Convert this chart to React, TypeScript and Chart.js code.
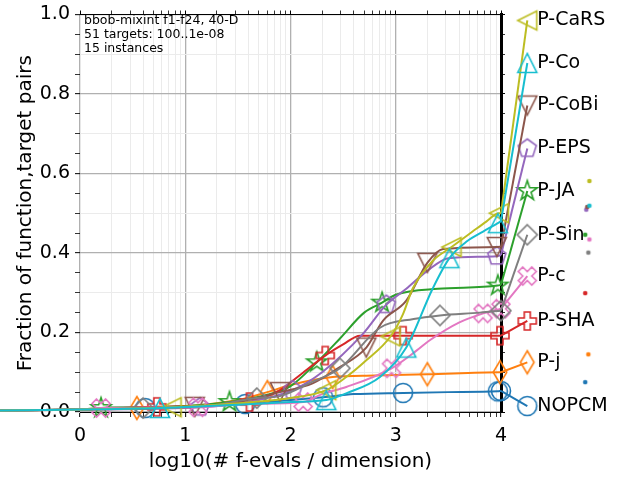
import React, { useEffect, useRef } from 'react';
import { Chart, registerables } from 'chart.js';

Chart.register(...registerables);

// ---------------- data ----------------
const ALGORITHMS = ['NOPCM', 'P-j', 'P-JA', 'P-SHA', 'P-EPS', 'P-CoBi', 'P-c', 'P-Sin', 'P-CaRS', 'P-Co'];
const COLORS = ['#1f77b4', '#ff7f0e', '#2ca02c', '#d62728', '#9467bd', '#8c564b', '#e377c2', '#7f7f7f', '#bcbd22', '#17becf'];
const MARKERS = ['circle', 'thinDiamond', 'star', 'plus', 'pentagon', 'triDown', 'xFilled', 'diamond', 'triLeft', 'triUp'];

const X_START = -0.76;
const Y_START = 0.004;
const X_LABEL = 4.25;
const LABEL_Y = [0.015, 0.125, 0.556, 0.229, 0.663, 0.771, 0.342, 0.446, 0.985, 0.878];

const NOPCM_X = [0, 0.62, 1.0, 1.57, 2.0, 2.31, 2.6, 3.07, 3.5, 3.97, 4.0];
const NOPCM_Y = [0.006, 0.01, 0.013, 0.02, 0.03, 0.037, 0.045, 0.048, 0.05, 0.052, 0.053];
const NOPCM_MARKS = [1, 3, 5, 7, 9, 10];

const PJ_X = [0, 0.54, 1.0, 1.5, 1.78, 2.0, 2.4, 2.8, 3.3, 3.99, 4.0];
const PJ_Y = [0.006, 0.01, 0.014, 0.03, 0.05, 0.068, 0.088, 0.092, 0.095, 0.1, 0.1];
const PJ_MARKS = [1, 4, 6, 8, 9];

const PJA_X = [0, 0.2, 1.0, 1.42, 1.8, 2.0, 2.25, 2.47, 2.7, 2.87, 3.0, 3.4, 3.97, 4.0];
const PJA_Y = [0.006, 0.01, 0.015, 0.025, 0.045, 0.065, 0.125, 0.185, 0.25, 0.275, 0.295, 0.31, 0.318, 0.32];
const PJA_MARKS = [1, 3, 6, 9, 12];

const PSHA_X = [0, 0.73, 1.2, 1.61, 1.9, 2.1, 2.33, 2.5, 2.66, 3.07, 3.99, 4.0];
const PSHA_Y = [0.006, 0.013, 0.016, 0.025, 0.055, 0.095, 0.142, 0.17, 0.192, 0.192, 0.192, 0.192];
const PSHA_MARKS = [1, 3, 6, 9, 10];

const PEPS_X = [0, 1.14, 1.6, 2.02, 2.3, 2.69, 2.91, 3.1, 3.3, 3.5, 3.96, 4.0];
const PEPS_Y = [0.006, 0.012, 0.025, 0.055, 0.1, 0.197, 0.27, 0.31, 0.355, 0.387, 0.392, 0.395];
const PEPS_MARKS = [1, 3, 6, 10];

const PCOBI_X = [0, 1.09, 1.5, 1.9, 2.21, 2.45, 2.72, 2.88, 3.1, 3.3, 3.45, 3.96, 4.0];
const PCOBI_Y = [0.006, 0.013, 0.025, 0.05, 0.072, 0.11, 0.162, 0.23, 0.28, 0.375, 0.41, 0.415, 0.416];
const PCOBI_MARKS = [1, 3, 6, 9, 11];

const PC_X = [0, 0.2, 1.12, 1.6, 2.12, 2.3, 2.53, 2.96, 3.2, 3.32, 3.6, 3.83, 4.0];
const PC_Y = [0.006, 0.01, 0.012, 0.02, 0.025, 0.045, 0.063, 0.11, 0.155, 0.18, 0.225, 0.248, 0.26];
const PC_MARKS = [1, 2, 4, 7, 11, 12];

const PSIN_X = [0, 0.6, 1.2, 1.68, 1.9, 2.2, 2.47, 2.85, 3.17, 3.42, 3.8, 4.0];
const PSIN_Y = [0.006, 0.01, 0.015, 0.035, 0.04, 0.075, 0.11, 0.212, 0.234, 0.243, 0.25, 0.255];
const PSIN_MARKS = [1, 3, 6, 9, 11];

const PCARS_X = [0, 0.87, 1.4, 2.0, 2.34, 2.53, 2.72, 2.95, 3.07, 3.16, 3.35, 3.53, 3.73, 3.86, 3.98, 4.0];
const PCARS_Y = [0.006, 0.012, 0.02, 0.035, 0.055, 0.088, 0.13, 0.19, 0.247, 0.31, 0.38, 0.415, 0.454, 0.479, 0.5, 0.5];
const PCARS_MARKS = [1, 4, 7, 11, 14];

const PCO_X = [0, 0.76, 1.5, 2.0, 2.34, 2.53, 2.85, 3.1, 3.35, 3.51, 3.68, 3.83, 3.97, 4.0];
const PCO_Y = [0.006, 0.01, 0.018, 0.025, 0.03, 0.047, 0.088, 0.162, 0.31, 0.387, 0.43, 0.454, 0.475, 0.48];
const PCO_MARKS = [1, 4, 7, 9, 12];

const SERIES_X = [NOPCM_X, PJ_X, PJA_X, PSHA_X, PEPS_X, PCOBI_X, PC_X, PSIN_X, PCARS_X, PCO_X];
const SERIES_Y = [NOPCM_Y, PJ_Y, PJA_Y, PSHA_Y, PEPS_Y, PCOBI_Y, PC_Y, PSIN_Y, PCARS_Y, PCO_Y];
const SERIES_MARKS = [NOPCM_MARKS, PJ_MARKS, PJA_MARKS, PSHA_MARKS, PEPS_MARKS, PCOBI_MARKS, PC_MARKS, PSIN_MARKS, PCARS_MARKS, PCO_MARKS];

// small dots at the right margin (one per algorithm, same order)
const DOT_X = [4.8, 4.83, 4.8, 4.8, 4.81, 4.82, 4.84, 4.83, 4.84, 4.84];
const DOT_Y = [0.075, 0.145, 0.446, 0.299, 0.509, 0.516, 0.434, 0.401, 0.581, 0.519];

const X_MAJOR = [0, 1, 2, 3, 4];
const X_TICK_LABELS = ['0', '1', '2', '3', '4'];
const Y_MAJOR = [0, 0.2, 0.4, 0.6, 0.8, 1.0];
const Y_TICK_LABELS = ['0.0', '0.2', '0.4', '0.6', '0.8', '1.0'];

const INFO_LINES = ['bbob-mixint f1-f24, 40-D', '51 targets: 100..1e-08', '15 instances'];
const X_TITLE = 'log10(# f-evals / dimension)';
const Y_TITLE = 'Fraction of function,target pairs';

// tick positions: log-spaced minor ticks per decade, 0.05 steps on y
const X_TICKS: number[] = [];
for (let d = 0; d < 4; d++) for (let k = 1; k <= 9; k++) X_TICKS.push(d + Math.log10(k));
X_TICKS.push(4);
const Y_TICKS: number[] = [];
for (let i = 0; i <= 20; i++) Y_TICKS.push(i * 0.05);

// ---------------- helpers ----------------
const FONT = '"DejaVu Sans", "Liberation Sans", sans-serif';

function makeMarker(shape: string, color: string): HTMLCanvasElement {
  const S = 30;
  const c = document.createElement('canvas');
  c.width = S;
  c.height = S;
  const g = c.getContext('2d')!;
  g.translate(S / 2, S / 2);
  g.strokeStyle = color;
  g.fillStyle = color;
  g.lineWidth = 1.6;
  g.lineJoin = 'miter';
  g.beginPath();
  const poly = (pts: number[][], s = 1) => {
    pts.forEach(([x, y], i) => (i ? g.lineTo(x * s, y * s) : g.moveTo(x * s, y * s)));
    g.closePath();
  };
  switch (shape) {
    case 'circle':
      g.arc(0, 0, 9.5, 0, Math.PI * 2);
      break;
    case 'dot':
      g.arc(0, 0, 2.3, 0, Math.PI * 2);
      g.fill();
      return c;
    case 'triUp':
      poly([[0, -9.5], [-9.5, 9.5], [9.5, 9.5]]);
      break;
    case 'triDown':
      poly([[0, 9.5], [-9.5, -9.5], [9.5, -9.5]]);
      break;
    case 'triLeft':
      poly([[-9.5, 0], [9.5, -9.5], [9.5, 9.5]]);
      break;
    case 'diamond':
      poly([[0, -10], [10, 0], [0, 10], [-10, 0]]);
      break;
    case 'thinDiamond':
      poly([[0, -11.5], [6.8, 0], [0, 11.5], [-6.8, 0]]);
      break;
    case 'pentagon': {
      const pts: number[][] = [];
      for (let i = 0; i < 5; i++) {
        const a = -Math.PI / 2 + (i * 2 * Math.PI) / 5;
        pts.push([Math.cos(a) * 9.5, Math.sin(a) * 9.5]);
      }
      poly(pts);
      break;
    }
    case 'star': {
      const pts: number[][] = [];
      for (let i = 0; i < 10; i++) {
        const a = -Math.PI / 2 + (i * Math.PI) / 5;
        const r = i % 2 ? 10.5 * 0.382 : 10.5;
        pts.push([Math.cos(a) * r, Math.sin(a) * r]);
      }
      poly(pts);
      break;
    }
    case 'plus':
      poly(
        [[-1, -3], [-1, -1], [-3, -1], [-3, 1], [-1, 1], [-1, 3], [1, 3], [1, 1], [3, 1], [3, -1], [1, -1], [1, -3]],
        3
      );
      break;
    case 'xFilled':
      poly(
        [[-1, -2], [0, -1], [1, -2], [2, -1], [1, 0], [2, 1], [1, 2], [0, 1], [-1, 2], [-2, 1], [-1, 0], [-2, -1]],
        4.5
      );
      break;
  }
  g.stroke();
  return c;
}

const near = (a: number, b: number) => Math.abs(a - b) < 1e-6;
const isMajorX = (v: number) => X_MAJOR.some((m) => near(m, v));
const isMajorY = (v: number) => Y_MAJOR.some((m) => near(m, v));
const isMinorGridY = (v: number) => near(v * 10, Math.round(v * 10));

const textPlugin = {
  id: 'cocoText',
  afterDraw(chart: any) {
    const { ctx, chartArea } = chart;
    ctx.save();
    ctx.fillStyle = '#000';
    ctx.textBaseline = 'middle';
    ctx.textAlign = 'left';
    ctx.font = `12.5px ${FONT}`;
    INFO_LINES.forEach((t, i) => ctx.fillText(t, chartArea.left + 4, chartArea.top + 6.5 + i * 14));
    ctx.font = `19px ${FONT}`;
    chart.data.datasets.forEach((ds: any, i: number) => {
      if (!ds.isLabel) return;
      const meta = chart.getDatasetMeta(i);
      const pt = meta.data[meta.data.length - 1];
      ctx.fillText(ds.label, pt.x + 10, pt.y);
    });
    ctx.restore();
  },
};

function buildDatasets() {
  const sets: any[] = [];
  ALGORITHMS.forEach((name, i) => {
    const xs = SERIES_X[i];
    const ys = SERIES_Y[i];
    const marks = SERIES_MARKS[i];
    const marker = makeMarker(MARKERS[i], COLORS[i]);
    const data = [{ x: X_START, y: Y_START }, ...xs.map((x, j) => ({ x, y: ys[j] }))];
    const radii = data.map((_, j) => (j > 0 && marks.includes(j - 1) ? 10 : 0));
    const order = ALGORITHMS.length - i;
    sets.push({
      label: name + ' curve',
      data,
      borderColor: COLORS[i],
      borderWidth: 2,
      pointStyle: marker,
      pointRadius: radii,
      pointHoverRadius: radii,
      cubicInterpolationMode: 'monotone',
      fill: false,
      clip: false,
      order,
    });
    const last = xs.length - 1;
    sets.push({
      label: name,
      isLabel: true,
      data: [
        { x: xs[last], y: ys[last] },
        { x: X_LABEL, y: LABEL_Y[i] },
      ],
      borderColor: COLORS[i],
      borderWidth: 2,
      pointStyle: marker,
      pointRadius: [0, 45],
      pointHoverRadius: [0, 45],
      tension: 0,
      fill: false,
      clip: false,
      order,
    });
  });
  sets.push({
    label: 'dots',
    data: DOT_X.map((x, i) => ({ x, y: DOT_Y[i] })),
    showLine: false,
    pointStyle: COLORS.map((c) => makeMarker('dot', c)),
    pointRadius: 100,
    pointHoverRadius: 100,
    clip: false,
    order: 0,
  });
  return sets;
}

export default function App() {
  const ref = useRef<HTMLCanvasElement | null>(null);
  useEffect(() => {
    if (!ref.current) return;
    Chart.defaults.font.family = FONT;
    Chart.defaults.color = '#000';
    const setTicks = (vals: number[]) => (scale: any) => {
      scale.ticks = vals.map((v) => ({ value: v }));
    };
    const chart = new Chart(ref.current, {
      type: 'line',
      data: { datasets: buildDatasets() },
      plugins: [textPlugin],
      options: {
        animation: false,
        responsive: false,
        events: [],
        layout: { padding: 0, autoPadding: false },
        plugins: { legend: { display: false }, tooltip: { enabled: false } },
        scales: {
          x: {
            type: 'linear',
            position: 'bottom',
            min: 0,
            max: 4,
            afterBuildTicks: setTicks(X_TICKS),
            afterFit: (s: any) => {
              s.height = 68;
            },
            ticks: {
              autoSkip: false,
              maxRotation: 0,
              padding: 10,
              color: '#000',
              font: { size: 19, lineHeight: 1 },
              callback: (v: any) => {
                const idx = X_MAJOR.findIndex((m) => near(m, Number(v)));
                return idx >= 0 ? X_TICK_LABELS[idx] : '';
              },
            },
            grid: {
              color: (c: any) => (isMajorX(c.tick.value) ? '#b0b0b0' : '#ebebeb'),
              lineWidth: (c: any) => (isMajorX(c.tick.value) ? 1.3 : 1),
              tickLength: 5,
              tickColor: '#000',
              tickWidth: (c: any) => (isMajorX(c.tick.value) ? 1 : 0.8),
            },
            border: { display: true, color: '#000', width: 1 },
            title: {
              display: true,
              text: X_TITLE,
              color: '#000',
              font: { size: 20 },
              padding: { top: 0, bottom: 6 },
            },
          },
          x2: {
            type: 'linear',
            position: 'top',
            min: 0,
            max: 4,
            afterBuildTicks: setTicks(X_TICKS),
            afterFit: (s: any) => {
              s.height = 11;
            },
            ticks: { display: false, autoSkip: false },
            grid: {
              drawOnChartArea: false,
              tickLength: 4,
              tickColor: '#000',
              tickWidth: (c: any) => (isMajorX(c.tick.value) ? 1 : 0.8),
            },
            border: { display: true, color: '#000', width: 1 },
          },
          y: {
            type: 'linear',
            position: 'left',
            min: 0,
            max: 1,
            afterBuildTicks: setTicks(Y_TICKS),
            afterFit: (s: any) => {
              s.width = 80;
            },
            ticks: {
              autoSkip: false,
              padding: 5,
              color: '#000',
              font: { size: 19, lineHeight: 1 },
              callback: (v: any) => {
                const idx = Y_MAJOR.findIndex((m) => near(m, Number(v)));
                return idx >= 0 ? Y_TICK_LABELS[idx] : '';
              },
            },
            grid: {
              color: (c: any) =>
                isMajorY(c.tick.value) ? '#b0b0b0' : isMinorGridY(c.tick.value) ? '#ebebeb' : 'rgba(0,0,0,0)',
              lineWidth: (c: any) => (isMajorY(c.tick.value) ? 1.3 : 1),
              tickLength: 5,
              tickColor: '#000',
              tickWidth: (c: any) => (isMajorY(c.tick.value) ? 1 : 0.8),
            },
            border: { display: false },
            title: {
              display: true,
              text: Y_TITLE,
              color: '#000',
              font: { size: 20 },
              padding: { top: 14, bottom: 0 },
            },
          },
          y2: {
            type: 'linear',
            position: 'right',
            min: 0,
            max: 1,
            afterBuildTicks: setTicks(Y_TICKS),
            afterFit: (s: any) => {
              s.width = 139;
            },
            ticks: { display: false, autoSkip: false },
            grid: {
              drawOnChartArea: false,
              tickLength: 4,
              tickColor: '#000',
              tickWidth: (c: any) => (isMajorY(c.tick.value) ? 1 : 0.8),
            },
            border: { display: true, color: '#000', width: 3 },
          },
        },
      } as any,
    });
    return () => chart.destroy();
  }, []);
  return (
    <div style={{ position: 'fixed', left: 0, top: 0, width: 640, height: 480, background: '#fff' }}>
      <canvas ref={ref} width={640} height={480} style={{ display: 'block' }} />
    </div>
  );
}
